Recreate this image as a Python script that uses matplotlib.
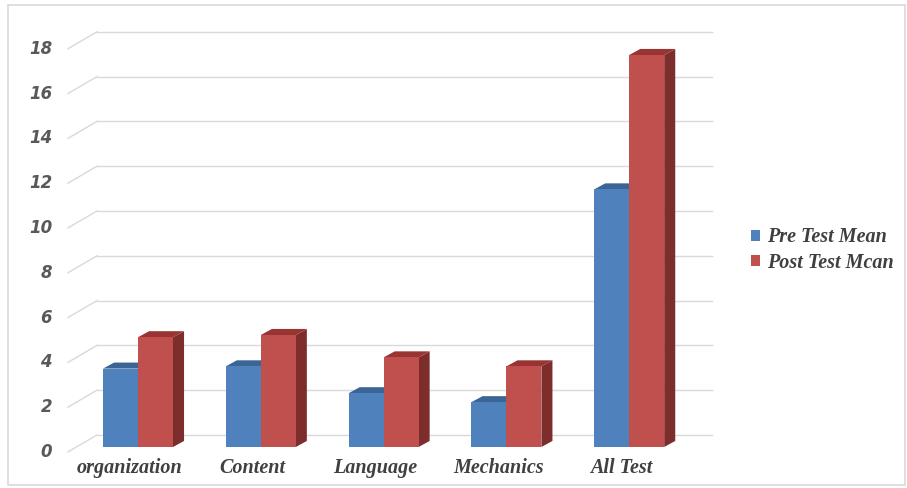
import matplotlib
matplotlib.use("Agg")
import matplotlib.pyplot as plt
from matplotlib.patches import Polygon, Rectangle, Patch

# data
categories = ["organization", "Content", "Language", "Mechanics", "All Test"]
pre_test = [3.5, 3.6, 2.4, 2.0, 11.5]
post_test = [4.9, 5.0, 4.0, 3.6, 17.5]
series_names = ["Pre Test Mean", "Post Test Mcan"]
y_ticks = [0, 2, 4, 6, 8, 10, 12, 14, 16, 18]

# colours for front / top / side faces
blue = ("#4f81bd", "#3a6595", "#2f5179")
red = ("#c0504d", "#993432", "#7d2e2c")

fig = plt.figure(figsize=(9.07, 4.88), dpi=100)
fig.patches.append(Rectangle((8 / 907, 3 / 488), 897 / 907, 480 / 488,
                             transform=fig.transFigure, fill=False,
                             edgecolor="#d9d9d9", linewidth=1.2))

# axes box in pixels: x 60..720, y 20..470 (from top)
ax = fig.add_axes([60 / 907, 18 / 488, 660 / 907, 450 / 488])
ax.set_xlim((60 - 138) / 122.8, (720 - 138) / 122.8)
ax.set_ylim((447 - 470) / 22.4, (447 - 20) / 22.4)
ax.axis("off")

# fake 3D offsets (in data units)
back_dx, back_dy = 0.167, 0.536
front_dx, front_dy = -0.069, -0.223
bar_dx, bar_dy = 0.09, 0.27
wall_left, wall_right = -0.334, 4.674

for t in y_ticks:
    ax.plot([wall_left, wall_right], [t + back_dy, t + back_dy],
            color="#d9d9d9", lw=1, zorder=1)
    ax.plot([wall_left - back_dx - 0.07, wall_left], [t + front_dy, t + back_dy],
            color="#d9d9d9", lw=1, zorder=1)
    ax.text(-0.70, t + front_dy, str(t), ha="right", va="center",
            fontsize=12, fontweight="bold", fontstyle="italic",
            family="DejaVu Sans", color="#595959")

w = 0.285


def draw_bar(x0, v, cols, z):
    ax.bar(x0, v, width=w, align="edge", color=cols[0], zorder=z + 0.2,
           linewidth=0)
    ax.add_patch(Polygon([(x0, v), (x0 + w, v), (x0 + w + bar_dx, v + bar_dy),
                          (x0 + bar_dx, v + bar_dy)], closed=True,
                         facecolor=cols[1], edgecolor="none", zorder=z + 0.1))
    ax.add_patch(Polygon([(x0 + w, 0), (x0 + w + bar_dx, bar_dy),
                          (x0 + w + bar_dx, v + bar_dy), (x0 + w, v)], closed=True,
                         facecolor=cols[2], edgecolor="none", zorder=z))


for i in range(len(categories)):
    draw_bar(i - w, pre_test[i], blue, 2)
    draw_bar(i, post_test[i], red, 3)
    ax.text(i - 0.065, -0.95, categories[i], ha="center", va="center",
            fontsize=14.5, fontweight="bold", fontstyle="italic",
            family="Liberation Serif", color="#404040")

handles = [Patch(facecolor=blue[0]), Patch(facecolor=red[0])]
fig.legend(handles, series_names, loc="center left",
           bbox_to_anchor=(751 / 907, 1 - 250 / 488), frameon=False,
           handlelength=0.45, handleheight=0.45, handletextpad=0.35,
           labelspacing=0.25, borderpad=0, borderaxespad=0,
           prop={"family": "Liberation Serif", "weight": "bold",
                 "style": "italic", "size": 14.5},
           labelcolor="#404040")

fig.savefig("out.png", dpi=100, facecolor="white")
